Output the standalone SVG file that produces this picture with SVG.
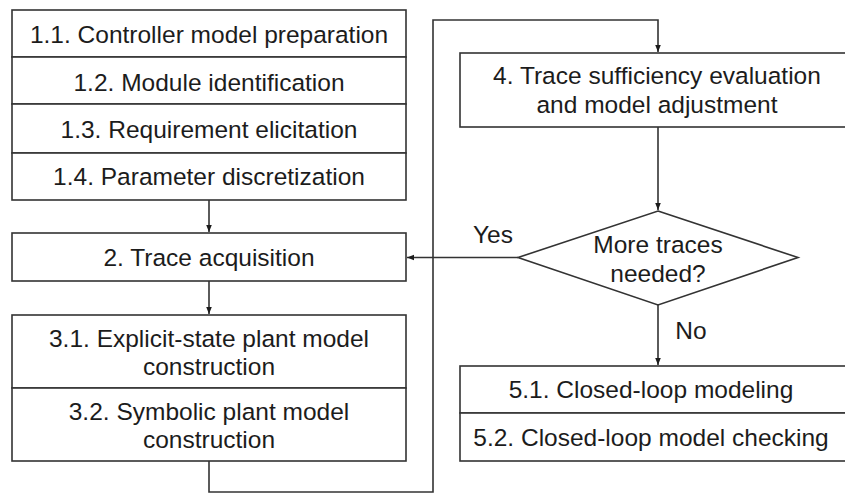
<svg xmlns="http://www.w3.org/2000/svg" width="845" height="493" viewBox="0 0 845 493">
  <style>
    .box { fill: #ffffff; stroke: #333333; stroke-width: 1.6; }
    .line { fill: none; stroke: #333333; stroke-width: 1.6; }
    .lbl { font-family: "Liberation Sans", Arial, sans-serif; font-size: 24.5px; fill: #1c1c1c; text-anchor: middle; }
  </style>
  <defs>
    <marker id="arrow" viewBox="0 0 10 10" refX="10" refY="5" markerWidth="7" markerHeight="7" markerUnits="userSpaceOnUse" orient="auto">
      <path d="M0,1 L10,5 L0,9 Z" fill="#1c1c1c"/>
    </marker>
  </defs>
  <rect width="845" height="493" fill="#ffffff"/>

  <g id="connectors">
    <line class="line" x1="209" y1="200" x2="209" y2="232" marker-end="url(#arrow)"/>
    <line class="line" x1="209" y1="281" x2="209" y2="314" marker-end="url(#arrow)"/>
    <polyline class="line" points="209,461 209,492 433,492 433,20 658,20 658,52" marker-end="url(#arrow)"/>
    <line class="line" x1="658" y1="127" x2="658" y2="210" marker-end="url(#arrow)"/>
    <line class="line" x1="518" y1="257.5" x2="407" y2="257.5" marker-end="url(#arrow)"/>
    <line class="line" x1="658" y1="305" x2="658" y2="365" marker-end="url(#arrow)"/>
    <text class="lbl" x="493" y="243">Yes</text>
    <text class="lbl" x="691" y="339">No</text>
  </g>

  <g id="step1">
    <rect class="box" x="12" y="10" width="394" height="47"/>
    <rect class="box" x="12" y="57" width="394" height="47"/>
    <rect class="box" x="12" y="104" width="394" height="49"/>
    <rect class="box" x="12" y="153" width="394" height="47"/>
    <text class="lbl" x="209" y="43">1.1. Controller model preparation</text>
    <text class="lbl" x="209" y="91">1.2. Module identification</text>
    <text class="lbl" x="209" y="138">1.3. Requirement elicitation</text>
    <text class="lbl" x="209" y="185">1.4. Parameter discretization</text>
  </g>

  <g id="step2">
    <rect class="box" x="12" y="233" width="394" height="48"/>
    <text class="lbl" x="209" y="266">2. Trace acquisition</text>
  </g>

  <g id="step3">
    <rect class="box" x="12" y="315" width="394" height="73"/>
    <rect class="box" x="12" y="388" width="394" height="73"/>
    <text class="lbl" x="209" y="347">3.1. Explicit-state plant model</text>
    <text class="lbl" x="209" y="375">construction</text>
    <text class="lbl" x="209" y="420">3.2. Symbolic plant model</text>
    <text class="lbl" x="209" y="448">construction</text>
  </g>

  <g id="step4">
    <rect class="box" x="460" y="53" width="390" height="74"/>
    <text class="lbl" x="657" y="84">4. Trace sufficiency evaluation</text>
    <text class="lbl" x="657" y="113">and model adjustment</text>
  </g>

  <g id="decision">
    <polygon class="box" points="658,211 798,257.5 658,305 518,257.5"/>
    <text class="lbl" x="658" y="253">More traces</text>
    <text class="lbl" x="658" y="282">needed?</text>
  </g>

  <g id="step5">
    <rect class="box" x="460" y="366" width="390" height="47"/>
    <rect class="box" x="460" y="413" width="390" height="48"/>
    <text class="lbl" x="651" y="398">5.1. Closed-loop modeling</text>
    <text class="lbl" x="651" y="446">5.2. Closed-loop model checking</text>
  </g>
</svg>
